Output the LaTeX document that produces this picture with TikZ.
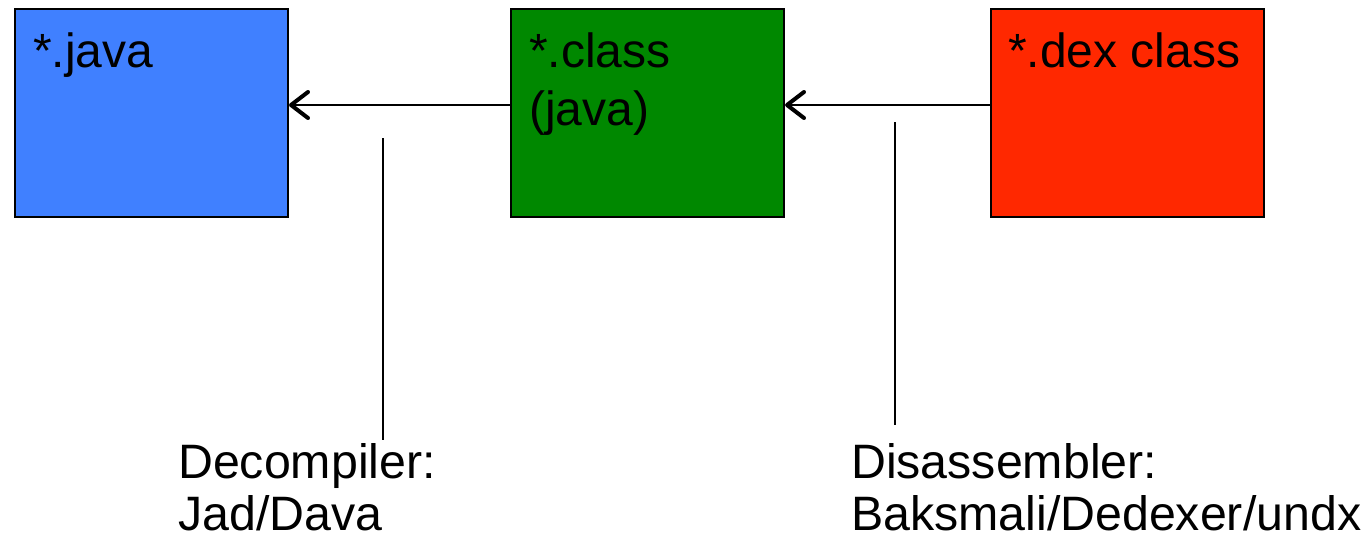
\documentclass[tikz,border=0pt]{standalone}
\usepackage{fontspec}
\setmainfont{Liberation Sans}
\usetikzlibrary{arrows.meta,calc}
\definecolor{boxblue}{RGB}{64,128,255}
\definecolor{boxgreen}{RGB}{0,136,0}
\definecolor{boxred}{RGB}{255,40,0}
\tikzset{
  filebox/.style={draw=black, line width=2pt, minimum width=273pt, minimum height=208pt, inner sep=0pt, anchor=north west},
  boxtext/.style={anchor=base west, inner sep=0pt, align=left, font=\fontsize{48}{58}\selectfont},
  labeltext/.style={anchor=base west, inner sep=0pt, align=left, font=\fontsize{48.3}{52}\selectfont},
  conv/.style={line width=2pt, -{Straight Barb[length=17pt,width=26pt,line width=4pt,round]}},
  leader/.style={line width=1.6pt}
}
\begin{document}
\begin{tikzpicture}[x=1pt,y=-1pt]
\useasboundingbox (0,0) rectangle (1367,538);
\node[filebox, fill=boxblue] (java) at (14,8) {};
\node[filebox, fill=boxgreen] (cls) at (510,8) {};
\node[filebox, fill=boxred] (dex) at (990,8) {};
\node[boxtext] (javat) at (33,67) {*.java};
\node[boxtext] (clst) at (529,125) {*.class\\(java)};
\node[boxtext] (dext) at (1008,67) {*.dex class};
\coordinate (ja) at ($(java.east)+(0,-8)$);
\coordinate (ca) at ($(cls.east)+(0,-8)$);
\coordinate (cb) at ($(cls.west)+(0,-8)$);
\coordinate (da) at ($(dex.west)+(0,-8)$);
\draw[conv] (cb) -- (ja);
\draw[conv] (da) -- (ca);
\coordinate (l1t) at (383,138);
\coordinate (l1b) at (383,440);
\coordinate (l2t) at (895,122);
\coordinate (l2b) at (895,425);
\draw[leader] (l1t) -- (l1b);
\draw[leader] (l2t) -- (l2b);
\node[labeltext] (dec) at (178,530) {Decompiler:\\Jad/Dava};
\node[labeltext] (dis) at (851,530) {Disassembler:\\Baksmali/Dedexer/undx};
\end{tikzpicture}
\end{document}
